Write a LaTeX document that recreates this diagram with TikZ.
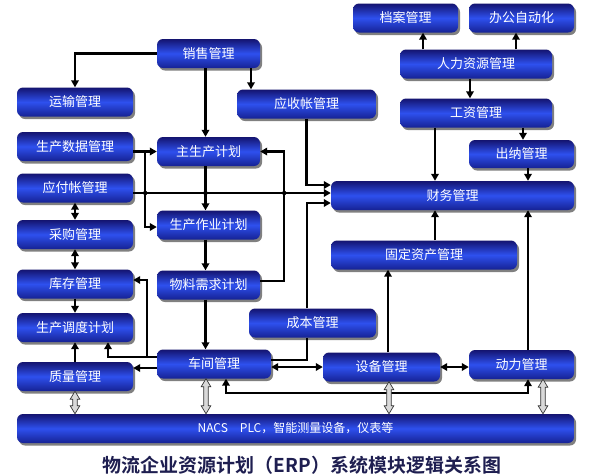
\documentclass[tikz,border=0pt]{standalone}
\usepackage{fontspec}
\setmainfont{Noto Sans CJK SC}
\newfontfamily\titlefont{Noto Sans CJK SC Bold}
\usetikzlibrary{arrows.meta,shadows,calc}

\definecolor{boxtop}{RGB}{20,20,112}
\definecolor{boxmid}{RGB}{46,80,238}
\definecolor{boxbot}{RGB}{22,34,148}
\definecolor{shadowgray}{RGB}{128,128,128}
\definecolor{titleblue}{RGB}{30,30,80}

% hollow double arrow from a box down to the field bus
\newcommand{\iolink}[1]{%
	\draw[iobus] let \p1=(#1), \p2=(NACS.north) in
		(\x1,\y1) -- (\x1+4.8pt,\y1-8pt) -- (\x1+2.3pt,\y1-8pt) -- (\x1+2.3pt,\y2+8pt) -- (\x1+4.8pt,\y2+8pt) -- (\x1,\y2)
		-- (\x1-4.8pt,\y2+8pt) -- (\x1-2.3pt,\y2+8pt) -- (\x1-2.3pt,\y1-8pt) -- (\x1-4.8pt,\y1-8pt) -- cycle;
}

\begin{document}
\begin{tikzpicture}[x=1pt,y=-1pt]
	\tikzstyle{mod} = [
		rectangle, rounded corners=6pt, inner sep=0pt,
		top color=boxtop, bottom color=boxbot, middle color=boxmid,
		drop shadow={shadow xshift=2pt, shadow yshift=-2.5pt, fill=shadowgray, opacity=1},
		text=white, font=\fontsize{13}{15}\selectfont, minimum height=29
	]
	\tikzstyle{conn} = [
		-{Triangle[length=7pt, width=7.5pt]}, line width=2.2pt
	]
	\tikzstyle{dconn} = [
		{Triangle[length=7pt, width=7.5pt]}-{Triangle[length=7pt, width=7.5pt]}, line width=2.2pt
	]
	\tikzstyle{plain} = [
		line width=2.2pt
	]
	\tikzstyle{iobus} = [
		draw=black!80, fill=black!15, line width=0.7pt
	]

	\fill[white] (0,0) rectangle (600,475);
	\useasboundingbox (0,0) rectangle (600,475);

	% Verkauf / Planung
	\node (XS)  [mod, minimum width=103] at (208.5,53.5) {销售管理};
	\node (YS)  [mod, minimum width=116] at (75,102)     {运输管理};
	\node (YSZ) [mod, minimum width=139] at (306.5,104)  {应收帐管理};
	\node (SJ)  [mod, minimum width=116] at (75,146.5)   {生产数据管理};
	\node (ZJ)  [mod, minimum width=103] at (208.5,151.5) {主生产计划};
	\node (YF)  [mod, minimum width=116] at (75,188)     {应付帐管理};
	\node (ZY)  [mod, minimum width=103] at (208.5,225)  {生产作业计划};
	\node (CG)  [mod, minimum width=116] at (75,234.5)   {采购管理};
	\node (KC)  [mod, minimum width=116] at (75,284)     {库存管理};
	\node (WL)  [mod, minimum width=103] at (208.5,285)  {物料需求计划};
	\node (DD)  [mod, minimum width=116] at (75,327.5)   {生产调度计划};
	\node (ZL)  [mod, minimum width=116] at (75,376.5)   {质量管理};
	\node (CJ)  [mod, minimum width=114] at (214,364)    {车间管理};
	\node (CB)  [mod, minimum width=127] at (312.5,323)  {成本管理};
	\node (SB)  [mod, minimum width=117] at (381.5,367)  {设备管理};
	\node (DL)  [mod, minimum width=105] at (521.5,364.5) {动力管理};

	% Finanzen / Personal
	\node (DA)  [mod, minimum width=105] at (405.5,18)   {档案管理};
	\node (BG)  [mod, minimum width=105] at (521.5,18)   {办公自动化};
	\node (RL)  [mod, minimum width=152] at (476,64)     {人力资源管理};
	\node (GZI) [mod, minimum width=152] at (476,113)    {工资管理};
	\node (CN)  [mod, minimum width=105, minimum height=28] at (521.5,154) {出纳管理};
	\node (CW)  [mod, minimum width=243] at (452.5,195.5) {财务管理};
	\node (GD)  [mod, minimum width=186] at (424,255)    {固定资产管理};

	% Feldebene
	\node (NACS) [mod, minimum width=557, font=\fontsize{12}{14}\selectfont] at (295.5,428.5) {NACS\quad PLC，智能测量设备，仪表等};

	% Titel
	\node (title) [font=\titlefont\fontsize{19}{22}\selectfont, text=titleblue] at (302,465)
		{物流企业资源计划（ERP）系统模块逻辑关系图};

	% 销售管理 ->
	\draw[conn] (XS.west) -| (YS.north);
	\coordinate[xshift=-3] (h4) at (ZJ.south);
	\draw[conn] (h4 |- XS.south) -- (h4 |- ZJ.north);
	\coordinate[xshift=42.5] (h1) at (XS.south);
	\draw[conn] (h1) -- (h1 |- YSZ.north);
	\draw[conn] (YSZ.south) |- ([yshift=10.5]CW.west);

	% 生产数据管理 ->
	\coordinate[xshift=12] (h2) at (SJ.east |- ZJ.west);
	\draw[conn] (SJ.east |- ZJ.west) -- (ZJ.west);
	\draw[conn] (h2) |- ([yshift=-2]ZY.west);

	% 应付帐管理 -> 财务管理
	\coordinate[yshift=2.5] (h3) at (CW.west);
	\draw[conn] (YF.east |- h3) -- (h3);

	% Planungskette
	\coordinate[xshift=24] (h5) at (ZJ.east);
	\draw[conn] (h4) -- (h4 |- ZY.north);
	\draw[conn] (h4 |- ZY.south) -- (h4 |- WL.north);
	\draw[conn] (h4 |- WL.south) -- (h4 |- CJ.north);
	\draw[conn] ([yshift=4]WL.east) -| (h5) -- (ZJ.east);
	\fill (h2 |- h3) circle (2.2pt);
	\fill (h4 |- h3) circle (2.2pt);
	\fill (h5 |- h3) circle (2.2pt);

	% linke Spalte
	\draw[dconn] (YF.south) -- (CG.north);
	\draw[dconn] (CG.south) -- (KC.north);
	\draw[conn] (KC.south) -- (DD.north);
	\draw[conn] (ZL.north) -- (DD.south);

	% 车间管理 ->
	\coordinate[yshift=7] (h6) at (CJ.west);
	\coordinate[yshift=4] (h7) at (KC.east);
	\draw[conn] (h6) -| ([xshift=14]h7) -- (h7);
	\draw[conn] (h6) -| ([xshift=33]DD.south);
	\coordinate[yshift=-4] (h8) at (CJ.west);
	\draw[conn] (h8) -- (ZL.east |- h8);
	\draw[dconn] (CJ.east |- SB.west) -- (SB.west);
	\coordinate[xshift=-5.5] (h9) at (CB.south);
	\draw[plain] (h9) |- ([yshift=4]CJ.east);
	\coordinate[xshift=-5.5] (h20) at (CB.north);
	\draw[conn] (h20) |- ([yshift=-7.5]CW.west);
	\coordinate[xshift=12] (h10) at (CJ.south);
	\draw[dconn] (h10) -- ++(0,14) -| ([xshift=6.5]DL.south);

	% -> 财务管理
	\coordinate[xshift=6.5] (h11) at (SB.north);
	\draw[conn] (h11) -- (h11 |- GD.south);
	\coordinate[xshift=11] (h12) at (GD.north);
	\draw[conn] (h12) -- (h12 |- CW.south);
	\coordinate[xshift=6.5] (h13) at (DL.north);
	\draw[conn] (h13) -- (h13 |- CW.south);
	\draw[dconn] (SB.east) -- (SB.east -| DL.west);

	% 人力资源管理 ->
	\coordinate[xshift=-53] (h14) at (RL.north);
	\draw[conn] (h14) -- (h14 |- DA.south);
	\coordinate[xshift=40] (h15) at (RL.north);
	\draw[conn] (h15) -- (h15 |- BG.south);
	\coordinate[xshift=-6] (h16) at (RL.south);
	\draw[conn] (h16) -- (h16 |- GZI.north);
	\coordinate[xshift=-41] (h17) at (GZI.south);
	\draw[conn] (h17) -- (h17 |- CW.north);
	\coordinate[xshift=1.5] (h18) at (CN.north);
	\draw[conn] (h18 |- GZI.south) -- (h18);
	\coordinate[xshift=6.5] (h19) at (CN.south);
	\draw[conn] (h19) -- (h19 |- CW.north);

	% Feldbus
	\iolink{ZL.south}
	\iolink{[xshift=-8]CJ.south}
	\iolink{[xshift=7.5]SB.south}
	\iolink{[xshift=21.5]DL.south}
\end{tikzpicture}
\end{document}
